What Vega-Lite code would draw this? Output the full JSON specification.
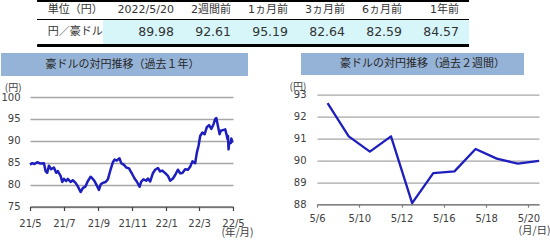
{
  "$schema": "https://vega.github.io/schema/vega-lite/v6.json",
  "padding": 0,
  "background": "white",
  "spacing": 6,
  "config": {
    "view": {"stroke": null},
    "axis": {"labelFont": "DejaVu Sans", "labelFontSize": 10, "labelColor": "#404040", "titleFont": "Noto Sans CJK JP", "titleFontSize": 10, "titleFontWeight": "normal", "titleColor": "#404040", "minExtent": 0}
  },
  "vconcat": [
    {
      "width": 550,
      "height": 46,
      "data": {"values": [
        {"row": 0, "col": 0, "text": "単位（円）"},
        {"row": 0, "col": 1, "text": "2022/5/20"},
        {"row": 0, "col": 2, "text": "2週間前"},
        {"row": 0, "col": 3, "text": "1ヵ月前"},
        {"row": 0, "col": 4, "text": "3ヵ月前"},
        {"row": 0, "col": 5, "text": "6ヵ月前"},
        {"row": 0, "col": 6, "text": "1年前"},
        {"row": 1, "col": 0, "text": "円／豪ドル"},
        {"row": 1, "col": 1, "text": "89.98"},
        {"row": 1, "col": 2, "text": "92.61"},
        {"row": 1, "col": 3, "text": "95.19"},
        {"row": 1, "col": 4, "text": "82.64"},
        {"row": 1, "col": 5, "text": "82.59"},
        {"row": 1, "col": 6, "text": "84.57"}
      ]},
      "layer": [
        {
          "mark": {"type": "rect", "color": "#D6F6FA"},
          "encoding": {
            "x": {"datum": -0.233, "type": "quantitative", "scale": {"domain": [-2.0351, 7.614], "nice": false, "zero": false}, "axis": null},
            "x2": {"datum": 6.175},
            "y": {"datum": 0.426, "type": "quantitative", "scale": {"domain": [-0.448, 1.614], "nice": false, "zero": false, "reverse": true}, "axis": null},
            "y2": {"datum": 1.591}
          }
        },
        {
          "mark": {"type": "rule", "color": "#000000", "strokeWidth": 1.6},
          "encoding": {
            "x": {"datum": -1.393, "type": "quantitative", "scale": {"domain": [-2.0351, 7.614], "nice": false, "zero": false}, "axis": null},
            "x2": {"datum": 6.175},
            "y": {"datum": -0.394, "type": "quantitative", "scale": {"domain": [-0.448, 1.614], "nice": false, "zero": false, "reverse": true}, "axis": null}
          }
        },
        {
          "mark": {"type": "rule", "color": "#000000", "strokeWidth": 1.1},
          "encoding": {
            "x": {"datum": -1.393, "type": "quantitative", "scale": {"domain": [-2.0351, 7.614], "nice": false, "zero": false}, "axis": null},
            "x2": {"datum": 6.175},
            "y": {"datum": 0.426, "type": "quantitative", "scale": {"domain": [-0.448, 1.614], "nice": false, "zero": false, "reverse": true}, "axis": null}
          }
        },
        {
          "mark": {"type": "rule", "color": "#000000", "strokeWidth": 1.6},
          "encoding": {
            "x": {"datum": -1.393, "type": "quantitative", "scale": {"domain": [-2.0351, 7.614], "nice": false, "zero": false}, "axis": null},
            "x2": {"datum": 6.175},
            "y": {"datum": 1.591, "type": "quantitative", "scale": {"domain": [-0.448, 1.614], "nice": false, "zero": false, "reverse": true}, "axis": null}
          }
        },
        {
          "transform": [{"filter": "datum.row == 0 && datum.col > 0"}],
          "mark": {"type": "text", "align": "right", "baseline": "middle", "font": "DejaVu Sans, Noto Sans CJK JP", "fontSize": 11, "color": "#333333"},
          "encoding": {
            "x": {"field": "col", "type": "quantitative", "scale": {"domain": [-2.0351, 7.614], "nice": false, "zero": false}, "axis": null},
            "y": {"field": "row", "type": "quantitative", "scale": {"domain": [-0.448, 1.614], "nice": false, "zero": false, "reverse": true}, "axis": null},
            "text": {"field": "text"}
          }
        },
        {
          "transform": [{"filter": "datum.row == 1 && datum.col > 0"}],
          "mark": {"type": "text", "align": "right", "baseline": "middle", "font": "DejaVu Sans", "fontSize": 12.5, "color": "#333333"},
          "encoding": {
            "x": {"field": "col", "type": "quantitative", "scale": {"domain": [-2.0351, 7.614], "nice": false, "zero": false}, "axis": null},
            "y": {"field": "row", "type": "quantitative", "scale": {"domain": [-0.448, 1.614], "nice": false, "zero": false, "reverse": true}, "axis": null},
            "text": {"field": "text"}
          }
        },
        {
          "transform": [{"filter": "datum.col == 0"}],
          "mark": {"type": "text", "align": "left", "baseline": "middle", "font": "Noto Sans CJK JP", "fontSize": 11, "color": "#333333"},
          "encoding": {
            "x": {"datum": -1.216, "type": "quantitative", "scale": {"domain": [-2.0351, 7.614], "nice": false, "zero": false}, "axis": null},
            "y": {"field": "row", "type": "quantitative", "scale": {"domain": [-0.448, 1.614], "nice": false, "zero": false, "reverse": true}, "axis": null},
            "text": {"field": "text"}
          }
        }
      ]
    },
    {
      "spacing": 35,
      "hconcat": [
        {
          "spacing": 6,
          "vconcat": [
            {
              "width": 247,
              "height": 23,
              "view": {"fill": "#95B3D7", "stroke": null},
              "data": {"values": [{"t": "豪ドルの対円推移（過去１年）"}]},
              "mark": {"type": "text", "font": "Noto Sans CJK JP", "fontSize": 11, "color": "#262626", "dx": -2},
              "encoding": {"text": {"field": "t"}}
            },
            {
              "width": 247,
              "height": 109.5,
              "data": {"values": [
                {"date": "2021-05-20", "v": 84.57},
                {"date": "2021-05-24", "v": 84.9},
                {"date": "2021-05-28", "v": 84.7},
                {"date": "2021-06-02", "v": 85.1},
                {"date": "2021-06-08", "v": 84.8},
                {"date": "2021-06-14", "v": 84.9},
                {"date": "2021-06-17", "v": 83.1},
                {"date": "2021-06-20", "v": 82.7},
                {"date": "2021-06-23", "v": 84.3},
                {"date": "2021-06-27", "v": 83.5},
                {"date": "2021-07-02", "v": 83.9},
                {"date": "2021-07-06", "v": 82.7},
                {"date": "2021-07-09", "v": 83.1},
                {"date": "2021-07-14", "v": 82.0},
                {"date": "2021-07-17", "v": 80.6},
                {"date": "2021-07-20", "v": 81.3},
                {"date": "2021-07-24", "v": 80.8},
                {"date": "2021-07-27", "v": 81.3},
                {"date": "2021-08-01", "v": 80.6},
                {"date": "2021-08-05", "v": 81.0},
                {"date": "2021-08-10", "v": 80.4},
                {"date": "2021-08-14", "v": 79.6},
                {"date": "2021-08-19", "v": 78.3},
                {"date": "2021-08-23", "v": 79.2},
                {"date": "2021-08-28", "v": 79.6},
                {"date": "2021-09-01", "v": 80.8},
                {"date": "2021-09-06", "v": 81.8},
                {"date": "2021-09-10", "v": 81.3},
                {"date": "2021-09-13", "v": 80.8},
                {"date": "2021-09-18", "v": 79.6},
                {"date": "2021-09-21", "v": 78.8},
                {"date": "2021-09-24", "v": 80.0},
                {"date": "2021-09-28", "v": 80.4},
                {"date": "2021-10-03", "v": 80.6},
                {"date": "2021-10-07", "v": 81.2},
                {"date": "2021-10-12", "v": 83.5},
                {"date": "2021-10-16", "v": 85.1},
                {"date": "2021-10-19", "v": 85.7},
                {"date": "2021-10-23", "v": 85.5},
                {"date": "2021-10-28", "v": 86.0},
                {"date": "2021-10-31", "v": 84.9},
                {"date": "2021-11-05", "v": 84.5},
                {"date": "2021-11-09", "v": 83.9},
                {"date": "2021-11-14", "v": 83.7},
                {"date": "2021-11-17", "v": 83.0},
                {"date": "2021-11-19", "v": 82.59},
                {"date": "2021-11-24", "v": 81.4},
                {"date": "2021-11-28", "v": 80.7},
                {"date": "2021-12-03", "v": 79.5},
                {"date": "2021-12-06", "v": 80.7},
                {"date": "2021-12-10", "v": 81.2},
                {"date": "2021-12-15", "v": 80.9},
                {"date": "2021-12-18", "v": 81.4},
                {"date": "2021-12-22", "v": 80.7},
                {"date": "2021-12-27", "v": 82.6},
                {"date": "2021-12-31", "v": 83.4},
                {"date": "2022-01-05", "v": 83.8},
                {"date": "2022-01-09", "v": 83.0},
                {"date": "2022-01-13", "v": 83.2},
                {"date": "2022-01-18", "v": 82.6},
                {"date": "2022-01-23", "v": 82.0},
                {"date": "2022-01-27", "v": 80.9},
                {"date": "2022-02-01", "v": 81.4},
                {"date": "2022-02-05", "v": 82.2},
                {"date": "2022-02-10", "v": 83.4},
                {"date": "2022-02-14", "v": 82.6},
                {"date": "2022-02-18", "v": 82.64},
                {"date": "2022-02-23", "v": 83.5},
                {"date": "2022-02-28", "v": 83.4},
                {"date": "2022-03-04", "v": 84.1},
                {"date": "2022-03-08", "v": 85.3},
                {"date": "2022-03-13", "v": 84.9},
                {"date": "2022-03-16", "v": 87.3},
                {"date": "2022-03-19", "v": 88.8},
                {"date": "2022-03-22", "v": 91.1},
                {"date": "2022-03-26", "v": 91.9},
                {"date": "2022-03-30", "v": 91.5},
                {"date": "2022-04-03", "v": 93.1},
                {"date": "2022-04-07", "v": 93.6},
                {"date": "2022-04-11", "v": 92.7},
                {"date": "2022-04-15", "v": 93.8},
                {"date": "2022-04-18", "v": 95.0},
                {"date": "2022-04-20", "v": 95.19},
                {"date": "2022-04-24", "v": 92.7},
                {"date": "2022-04-26", "v": 91.5},
                {"date": "2022-04-28", "v": 92.3},
                {"date": "2022-05-03", "v": 92.5},
                {"date": "2022-05-06", "v": 92.61},
                {"date": "2022-05-09", "v": 91.1},
                {"date": "2022-05-10", "v": 90.4},
                {"date": "2022-05-11", "v": 91.1},
                {"date": "2022-05-12", "v": 88.05},
                {"date": "2022-05-13", "v": 89.42},
                {"date": "2022-05-16", "v": 89.5},
                {"date": "2022-05-17", "v": 90.52},
                {"date": "2022-05-18", "v": 90.08},
                {"date": "2022-05-19", "v": 89.85},
                {"date": "2022-05-20", "v": 89.98}
              ]},
              "mark": {"type": "line", "color": "#1E1EBE", "strokeWidth": 2.5, "strokeJoin": "round"},
              "encoding": {
                "x": {
                  "field": "date", "type": "temporal",
                  "scale": {"type": "utc", "domain": [{"year": 2021, "month": 5, "date": 20, "utc": true}, {"year": 2022, "month": 5, "date": 20, "utc": true}], "range": [29, 232]},
                  "axis": {
                    "values": [
                      {"year": 2021, "month": 5, "date": 20, "utc": true},
                      {"year": 2021, "month": 7, "date": 20, "utc": true},
                      {"year": 2021, "month": 9, "date": 20, "utc": true},
                      {"year": 2021, "month": 11, "date": 20, "utc": true},
                      {"year": 2022, "month": 1, "date": 20, "utc": true},
                      {"year": 2022, "month": 3, "date": 20, "utc": true},
                      {"year": 2022, "month": 5, "date": 20, "utc": true}
                    ],
                    "labelExpr": "utcFormat(datum.value, '%y/%-m')",
                    "grid": false, "domainColor": "#404040", "domainWidth": 1.2, "tickColor": "#404040", "tickSize": 4, "tickWidth": 1.2,
                    "labelPadding": 8, "labelFlush": false, "labelOverlap": false,
                    "title": "(年/月)", "titleX": 236, "titleY": 25.5, "titleAlign": "center", "titleBaseline": "middle", "titleFontSize": 10.5
                  }
                },
                "y": {
                  "field": "v", "type": "quantitative",
                  "scale": {"domain": [75, 100], "zero": false, "nice": false},
                  "axis": {
                    "values": [75, 80, 85, 90, 95, 100], "offset": -29,
                    "grid": true, "gridColor": "#A6A6A6", "gridWidth": 1.3, "domain": false, "ticks": false,
                    "labelPadding": 10,
                    "title": "(円)", "titleAngle": 0, "titleX": -25.7, "titleY": -10, "titleAlign": "left", "titleBaseline": "middle"
                  }
                }
              }
            }
          ]
        },
        {
          "spacing": 5.7,
          "vconcat": [
            {
              "width": 223,
              "height": 22,
              "view": {"fill": "#95B3D7", "stroke": null},
              "data": {"values": [{"t": "豪ドルの対円推移（過去２週間）"}]},
              "mark": {"type": "text", "font": "Noto Sans CJK JP", "fontSize": 11, "color": "#262626", "dx": 10},
              "encoding": {"text": {"field": "t"}}
            },
            {
              "width": 238,
              "height": 109.5,
              "data": {"values": [
                {"d": "5/6", "v": 92.61},
                {"d": "5/9", "v": 91.1},
                {"d": "5/10", "v": 90.4},
                {"d": "5/11", "v": 91.1},
                {"d": "5/12", "v": 88.05},
                {"d": "5/13", "v": 89.42},
                {"d": "5/16", "v": 89.5},
                {"d": "5/17", "v": 90.52},
                {"d": "5/18", "v": 90.08},
                {"d": "5/19", "v": 89.85},
                {"d": "5/20", "v": 89.98}
              ]},
              "mark": {"type": "line", "color": "#1E1EBE", "strokeWidth": 2.3, "strokeJoin": "round"},
              "encoding": {
                "x": {
                  "field": "d", "type": "ordinal", "sort": null,
                  "scale": {"type": "point", "padding": 0.25, "align": 1, "range": [16, 238]},
                  "axis": {
                    "values": ["5/6", "5/10", "5/12", "5/16", "5/18", "5/20"],
                    "labelAngle": 0, "grid": false, "tickOffset": -10.57,
                    "domainColor": "#808080", "domainWidth": 1.2, "tickColor": "#808080", "tickSize": 3, "tickWidth": 1.2,
                    "labelPadding": 6, "labelFlush": false, "labelOverlap": false,
                    "title": "(月/日)", "titleX": 233, "titleY": 26.5, "titleAlign": "center", "titleBaseline": "middle", "titleFontSize": 10.5
                  }
                },
                "y": {
                  "field": "v", "type": "quantitative",
                  "scale": {"domain": [88, 93], "zero": false, "nice": false},
                  "axis": {
                    "values": [88, 89, 90, 91, 92, 93], "offset": -16,
                    "grid": true, "gridColor": "#A6A6A6", "gridWidth": 1.3, "domain": false, "ticks": false,
                    "labelPadding": 11,
                    "title": "(円)", "titleAngle": 0, "titleX": -28, "titleY": -8.4, "titleAlign": "left", "titleBaseline": "middle"
                  }
                }
              }
            }
          ]
        }
      ]
    }
  ]
}
